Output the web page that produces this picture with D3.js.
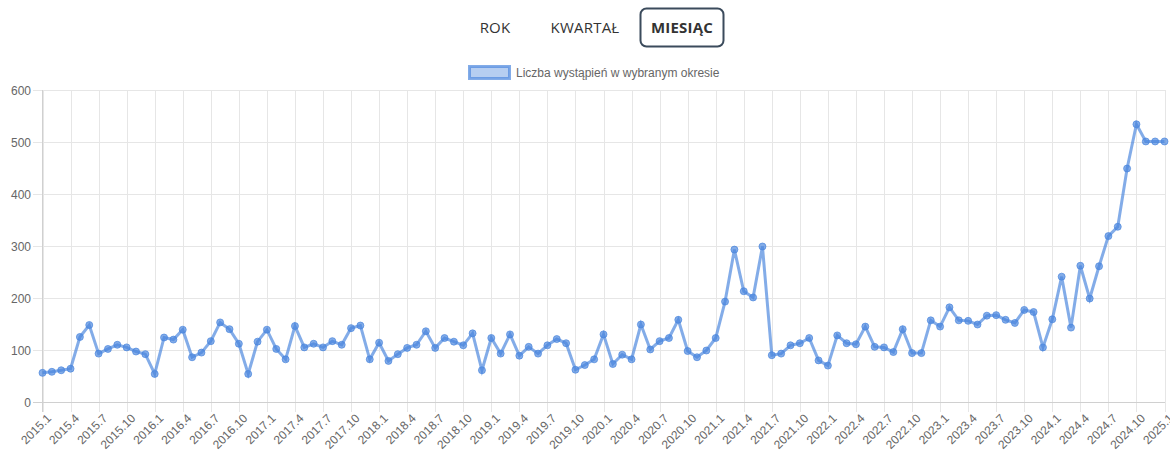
<!DOCTYPE html>
<html>
  <head>
    <meta charset="utf-8">
    <script src="https://d3js.org/d3.v7.min.js"></script>
    <style>
      body { margin: 0; background: #fff; }
      .btn { font-family: "Open Sans", sans-serif; font-size: 15px; fill: #333; letter-spacing: 0.2px; }
      .axis text { font-family: "Liberation Sans", Arial, sans-serif; font-size: 12px; fill: #666; }
      .axis path { display: none; }
      .grid line { stroke: #e6e6e6; shape-rendering: crispEdges; }
    </style>
  </head>
  <body>
    <svg width="1170" height="451"></svg>
    <script>
      // monthly counts, 2015.1 .. 2025.1
      const years = d3.range(2015, 2026);
      const labels = [];
      years.forEach(y => d3.range(1, 13).forEach(m => { if (y < 2025 || m === 1) labels.push(y + "." + m); }));

      const values = [
        57, 59, 62, 65, 126, 149, 94, 103, 111, 106, 98, 93,
        55, 125, 121, 140, 87, 96, 118, 154, 141, 113, 55, 117,
        140, 103, 83, 147, 106, 113, 106, 118, 111, 143, 148, 83,
        115, 80, 93, 105, 111, 137, 105, 124, 117, 110, 133, 62,
        124, 94, 131, 90, 107, 94, 110, 122, 114, 63, 72, 83,
        131, 74, 92, 83, 150, 102, 118, 124, 159, 99, 87, 100,
        124, 194, 294, 214, 202, 300, 91, 94, 110, 114, 124, 81,
        71, 129, 114, 112, 146, 107, 106, 97, 141, 95, 95, 158,
        146, 183, 158, 157, 150, 167, 168, 159, 153, 178, 174, 106,
        160, 242, 144, 263, 200, 262, 320, 338, 450, 535, 502, 502,
        502
      ];
      const yTicks = [0, 100, 200, 300, 400, 500, 600];
      const buttons = ["ROK", "KWARTAŁ", "MIESIĄC"];
      const seriesName = "Liczba wystąpień w wybranym okresie";

      const svg = d3.select("svg");
      const lineColor = "rgba(72, 132, 221, 0.68)";

      // period buttons
      const btnX = [495, 585, 682];
      svg.append("rect")
        .attr("x", 640.5).attr("y", 8.5).attr("width", 83).attr("height", 38)
        .attr("rx", 6).attr("fill", "none").attr("stroke", "#3b4b5c").attr("stroke-width", 2);
      svg.selectAll(".btn").data(buttons).enter().append("text")
        .attr("class", "btn")
        .attr("x", (d, i) => btnX[i]).attr("y", 33)
        .attr("text-anchor", "middle")
        .style("font-weight", (d, i) => i === 2 ? 700 : 500)
        .text(d => d);

      // legend
      svg.append("rect")
        .attr("x", 469.5).attr("y", 66.5).attr("width", 40).attr("height", 12)
        .attr("fill", "rgba(72, 132, 221, 0.4)").attr("stroke", lineColor).attr("stroke-width", 3);
      svg.append("text")
        .attr("x", 516).attr("y", 77)
        .style("font-family", "Liberation Sans, Arial, sans-serif").style("font-size", "12px").style("fill", "#666")
        .text(seriesName);

      const x = d3.scalePoint().domain(labels).range([42.5, 1164.5]);
      const y = d3.scaleLinear().domain([0, 600]).range([402.5, 90.5]);
      const xTicks = labels.filter((d, i) => i % 3 === 0);

      // grid
      svg.append("g").attr("class", "grid")
        .selectAll("line").data(xTicks).enter().append("line")
        .attr("x1", d => Math.round(x(d)) + 0.5).attr("x2", d => Math.round(x(d)) + 0.5)
        .attr("y1", 90).attr("y2", 412);
      svg.append("g").attr("class", "grid")
        .selectAll("line").data(yTicks).enter().append("line")
        .attr("x1", 33).attr("x2", 1165)
        .attr("y1", d => y(d)).attr("y2", d => y(d));
      svg.append("line").attr("x1", 42.5).attr("x2", 42.5).attr("y1", 90).attr("y2", 412)
        .attr("stroke", "#d0d0d0");
      svg.append("line").attr("x1", 33).attr("x2", 1165).attr("y1", y(0)).attr("y2", y(0))
        .attr("stroke", "#d0d0d0");

      // axes
      svg.append("g").attr("class", "axis")
        .attr("transform", "translate(32,0)")
        .call(d3.axisLeft(y).tickValues(yTicks).tickSize(0).tickPadding(1));

      const xAxis = svg.append("g").attr("class", "axis")
        .attr("transform", "translate(0,412)")
        .call(d3.axisBottom(x).tickValues(xTicks).tickSize(0));
      xAxis.selectAll("text")
        .attr("text-anchor", "end")
        .attr("dy", 0).attr("y", 0)
        .attr("transform", "translate(9,7) rotate(-45)");

      // series
      const line = d3.line().x((d, i) => x(labels[i])).y(d => y(d));
      svg.append("path").datum(values)
        .attr("d", line)
        .attr("fill", "none")
        .attr("stroke", lineColor)
        .attr("stroke-width", 3);

      svg.selectAll(".dot").data(values).enter().append("circle")
        .attr("class", "dot")
        .attr("cx", (d, i) => x(labels[i]))
        .attr("cy", d => y(d))
        .attr("r", 3.5)
        .attr("fill", lineColor)
        .attr("stroke", lineColor)
        .attr("stroke-width", 1);
    </script>
  </body>
</html>
